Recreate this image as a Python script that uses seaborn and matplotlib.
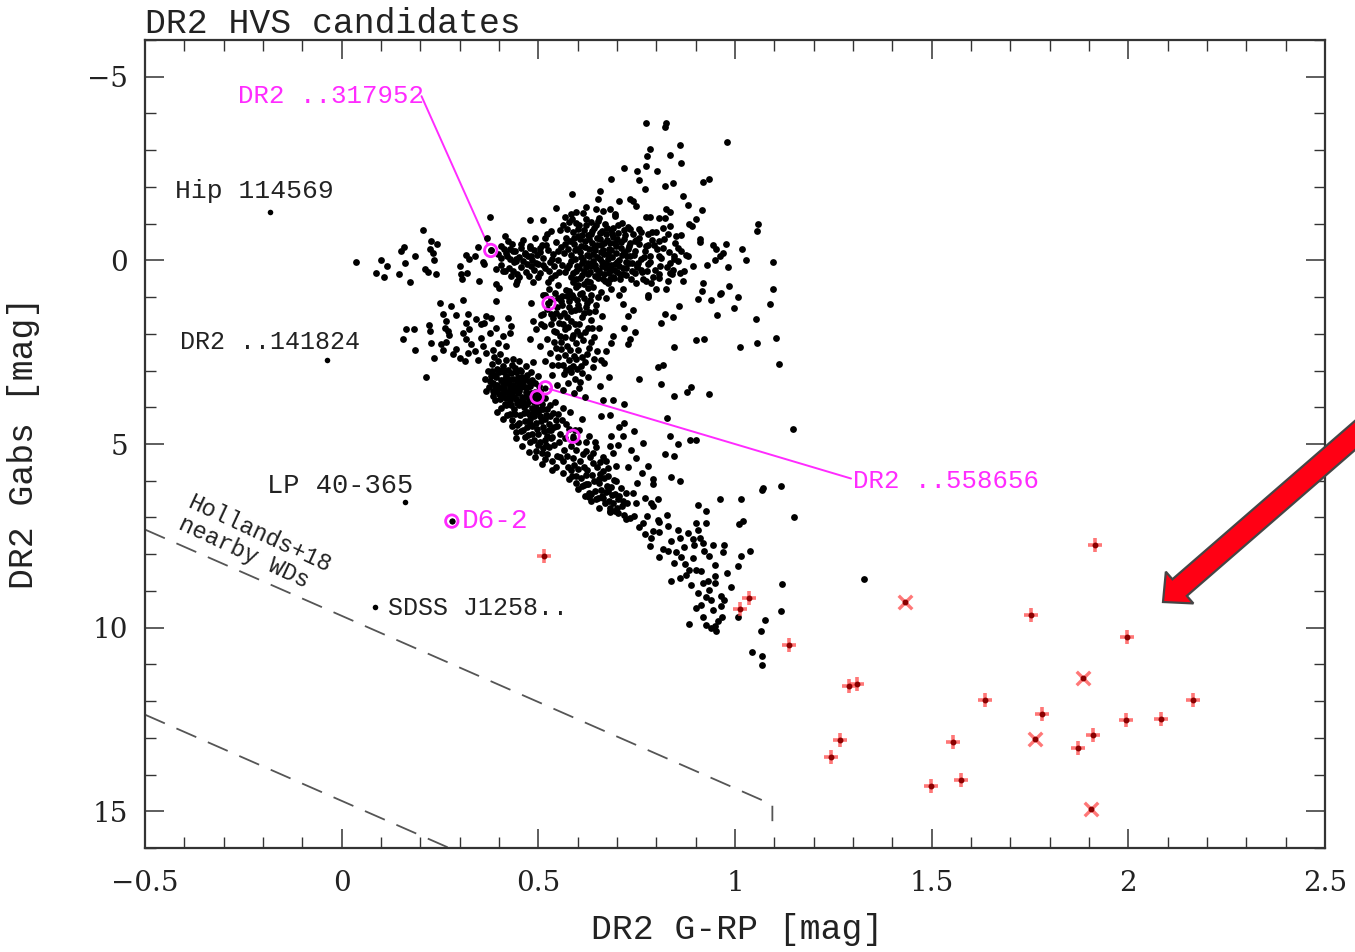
import numpy as np
import pandas as pd
import matplotlib
matplotlib.use("Agg")
import matplotlib.pyplot as plt
import seaborn as sns
from matplotlib.ticker import MultipleLocator, FuncFormatter
from matplotlib.patches import FancyArrow

# ---------------- data ----------------
# sparse stars, upper-left horizontal band
stars_upper_left = [(0.037,0.04),(0.10,0.0),(0.114,0.15),(0.088,0.35),(0.108,0.44),(0.147,0.38),(0.175,0.59),(0.16,0.06),(0.152,-0.25),(0.158,-0.37),(0.186,-0.12),(0.207,-0.82),(0.228,-0.53),(0.242,-0.44),(0.224,-0.32),(0.232,-0.21),(0.236,0.0),(0.213,0.23),(0.219,0.32),(0.241,0.38),(0.302,0.14),(0.317,-0.14),(0.325,-0.05),(0.34,-0.12),(0.346,-0.37),(0.359,0.05),(0.363,0.11),(0.304,0.38),(0.318,0.35),(0.307,0.52),(0.349,0.56),(0.376,-1.18),(0.370,-0.62),(0.379,-0.27),(0.393,0.23),(0.41,0.29),(0.393,0.65),(0.40,0.74),(0.431,0.43),(0.442,0.65),(0.414,-0.66),(0.423,-0.53),(0.406,-0.39),(0.419,-0.21),(0.435,-0.25),(0.406,-0.07),(0.427,-0.03),(0.444,0.02),(0.457,-0.44),(0.478,-0.39),(0.465,-0.16),(0.482,-0.12),(0.495,0.06),(0.48,-1.09),(0.512,-1.09),(0.546,-1.42),(0.567,-1.18),(0.584,-1.25),(0.586,-1.82),(0.533,-0.80),(0.554,-0.84),(0.516,-0.62),(0.503,-0.35),(0.516,0.93)]

# upper giant branch and right part of band
stars_upper_right = [(0.774,-3.75),(0.825,-3.75),(0.823,-3.64),(0.979,-3.23),(0.859,-3.13),(0.784,-3.02),(0.777,-2.83),(0.836,-2.87),(0.863,-2.66),(0.773,-2.57),(0.719,-2.51),(0.751,-2.43),(0.801,-2.43),(0.684,-2.21),(0.755,-2.19),(0.823,-2.03),(0.842,-2.10),(0.918,-2.14),(0.935,-2.21),(0.770,-1.95),(0.657,-1.89),(0.867,-1.74),(0.652,-1.66),(0.706,-1.62),(0.732,-1.68),(0.740,-1.62),(0.749,-1.48),(0.620,-1.44),(0.596,-1.32),(0.880,-1.50),(0.917,-1.36),(0.825,-1.41),(0.836,-1.32),(0.647,-1.41),(0.664,-1.34),(0.681,-1.39),(0.694,-1.25),(0.774,-1.18),(0.783,-1.18),(0.808,-1.16),(0.821,-1.14),(0.901,-1.12),(0.884,-0.98),(0.891,-0.94),(1.058,-0.98),(1.056,-0.80),(0.762,-0.77),(0.779,-0.71),(0.80,-0.76),(0.817,-0.89),(0.834,-0.94),(0.829,-0.71),(0.851,-0.66),(0.863,-0.68),(0.910,-0.57),(0.912,-0.50),(0.944,-0.41),(0.952,-0.30),(0.976,-0.44),(0.969,-0.19),(0.961,-0.12),(0.950,0.0),(1.018,-0.30),(1.028,0.0),(1.096,0.04),(0.982,0.18),(0.928,0.13),(0.876,-0.14),(0.918,0.61),(0.917,0.84),(0.986,0.70),(0.962,0.91),(1.007,0.99),(1.096,0.77),(0.745,-0.53),(0.757,-0.44),(0.774,-0.39),(0.795,-0.41),(0.808,-0.53),(0.783,-0.12),(0.808,-0.12),(0.834,0.06),(0.846,-0.12),(0.842,0.25),(0.859,0.34),(0.867,0.56),(0.808,0.38),(0.834,0.34),(0.779,0.11),(0.762,0.25),(0.753,0.06),(0.732,-0.12),(0.719,-0.21),(0.766,0.52),(0.787,0.61),(0.80,0.79),(0.825,0.79),(0.779,0.93),(0.749,0.61),(0.715,0.79),(0.706,0.93),
 (0.746,0.35),(0.755,-0.85),(0.76,-0.05),(0.771,-0.25),(0.776,0.3),(0.788,-0.55),(0.792,0.45),(0.81,0.15),(0.818,-0.35),(0.83,0.55),(0.845,-0.05),(0.855,-0.35)]

# blue stragglers / horizontal-branch region at left
stars_lower_left = [(0.156,2.13),(0.164,1.86),(0.183,1.88),(0.187,2.43),(0.215,3.17),(0.222,1.77),(0.224,1.93),(0.228,2.24),(0.236,2.65),(0.249,1.15),(0.257,1.47),(0.266,1.65),(0.262,1.83),(0.270,1.93),(0.274,2.04),(0.253,2.29),(0.266,2.23),(0.257,2.43),(0.283,2.56),(0.291,2.41),(0.300,2.65),(0.313,2.74),(0.279,1.25),(0.291,1.50),(0.308,1.08),(0.321,1.47),(0.315,1.70),(0.325,1.88),(0.308,1.97),(0.317,2.15),(0.330,2.29),(0.338,2.47),(0.321,2.52),(0.346,2.70),(0.342,1.61),(0.355,1.74),(0.368,1.52),(0.380,1.56),(0.363,1.70),(0.376,1.97),(0.393,1.11),(0.393,1.83),(0.410,2.06),(0.397,2.24),(0.385,2.43),(0.368,2.52),(0.359,2.34),(0.355,2.11),(0.419,2.34),(0.427,1.97),(0.431,1.79),(0.423,1.56),(0.482,1.15),(0.486,1.65),(0.495,1.88),(0.478,2.15),(0.512,1.47),(0.508,1.74)]

# sparse stars right of the cloud
stars_right = [(0.778,0.99),(0.857,1.23),(0.821,1.47),(0.842,1.53),(0.812,1.70),(0.905,1.06),(0.939,1.08),(0.965,0.90),(0.997,1.29),(0.955,1.50),(1.054,1.61),(1.088,1.19),(0.901,2.18),(0.922,2.13),(1.013,2.35),(1.056,2.24),(1.105,2.11),(1.111,2.81),(0.844,2.35),(0.804,2.91),(0.817,2.84),(0.757,3.22),(0.812,3.36),(0.846,3.70),(0.877,3.58),(0.889,3.45),(0.933,3.65),(0.827,4.29),(0.834,4.79),(0.855,5.01),(0.886,4.88),(0.900,4.90),(0.823,5.27),(0.845,5.33),(0.780,5.59),(0.764,5.80),(0.791,5.95),(0.838,5.89),(0.859,6.01),(0.749,5.38),(0.766,4.97),(1.147,4.60),(1.071,6.19),(1.117,6.13),(0.715,1.20),(0.728,1.52),(0.740,1.34),(0.719,1.83),(0.745,1.95),(0.732,2.15),(0.728,2.29),(0.690,2.06),(0.685,2.24),(0.673,2.47),(0.668,2.79),(0.679,3.17),(0.656,3.42),(0.664,3.79),(0.690,3.79),(0.719,3.92),(0.681,4.20),(0.660,4.24),(0.719,4.42),(0.715,4.77),(0.685,4.79),(0.681,5.06),(0.690,5.24),(0.664,5.74),(0.698,5.59),(0.705,4.55),(0.735,5.15),(0.742,4.65),(0.728,5.62),(0.752,6.05),(0.71,6.2),(0.655,5.95),(0.672,5.45),(0.645,4.95),(0.703,5.02)]

# lower main sequence
stars_main_seq = [(0.596,6.06),(0.622,6.10),(0.630,6.33),(0.647,6.51),(0.635,6.56),(0.664,6.47),(0.677,6.29),(0.681,6.74),(0.694,6.83),(0.702,6.51),(0.622,5.84),(0.698,6.01),(0.791,6.10),(1.069,6.25),(1.150,6.99),(0.723,6.33),(0.740,6.33),(0.715,6.56),(0.749,6.60),(0.770,6.47),(0.787,6.60),(0.804,6.49),(0.791,6.68),(0.681,6.83),(0.702,6.87),(0.723,7.04),(0.766,7.15),(0.804,7.06),(0.827,6.92),(0.808,7.13),(0.791,7.38),(0.808,7.40),(0.829,7.24),(0.787,7.56),(0.783,7.78),(0.838,7.65),(0.829,7.92),(0.859,7.56),(0.855,7.33),(0.880,7.42),(0.893,7.60),(0.905,7.35),(0.900,7.15),(0.927,7.15),(0.905,6.65),(0.927,6.83),(0.961,6.51),(1.016,6.51),(1.020,7.10),(1.011,7.19),(1.037,7.92),(1.016,8.06),(1.007,8.33),(0.973,7.74),(0.944,7.74),(0.969,7.95),(0.918,7.69),(0.910,7.56),(0.897,7.74),(0.922,7.92),(0.935,8.06),(0.893,8.10),(0.863,8.07),(0.806,8.07),(0.884,8.42),(0.901,8.42),(0.914,8.47),(0.876,8.56),(0.859,8.65),(0.838,8.74),(0.918,8.78),(0.931,8.74),(0.948,8.60),(0.950,8.78),(0.935,8.98),(0.927,9.16),(0.939,9.24),(0.965,9.15),(0.973,9.26),(0.965,9.40),(0.900,9.47),(0.918,9.70),(0.967,9.71),(0.882,9.90),(0.927,9.92),(0.948,9.96),(0.952,10.10),(1.007,9.70),(1.075,9.78),(1.067,10.10),(1.120,8.80),(1.117,9.54),(1.044,10.65),(1.068,10.78),(1.069,11.01),(1.328,8.67),
 (0.818,7.85),(0.846,8.25),(0.872,8.28),(0.889,8.85),(0.905,9.05),(0.913,9.38),(0.944,9.52),(0.958,9.82),(0.938,10.02),(0.85,7.95),(0.87,7.8),(0.95,8.3),(0.98,8.5),(0.99,8.9)]

# dense red-clump / giant region
stars_clump = [(0.562,-0.95),(0.571,-0.62),(0.575,-0.31),(0.578,0.12),(0.583,0.45),(0.586,-1.12),(0.589,-0.78),(0.591,-0.44),(0.594,-0.05),(0.597,0.28),(0.6,0.66),(0.603,-0.97),(0.605,-0.58),(0.607,-0.22),(0.61,0.08),(0.612,0.41),(0.614,-1.28),(0.617,-0.83),(0.619,-0.36),(0.621,0.19),(0.624,0.55),(0.626,-0.69),(0.628,-0.11),(0.631,0.33),(0.633,-1.05),(0.636,-0.48),(0.638,0.02),(0.64,0.72),(0.642,-0.88),(0.645,-0.27),(0.647,0.24),(0.649,-0.62),(0.652,0.49),(0.654,-1.15),(0.656,-0.05),(0.659,-0.41),(0.661,0.15),(0.663,-0.79),(0.666,0.38),(0.668,-0.18),(0.67,-0.99),(0.673,0.06),(0.675,-0.55),(0.677,0.61),(0.68,-0.32),(0.682,0.27),(0.684,-0.83),(0.687,-0.09),(0.689,0.44),(0.691,-0.63),(0.694,-1.21),(0.696,0.11),(0.698,-0.38),(0.701,0.33),(0.703,-0.74),(0.706,-0.02),(0.708,0.52),(0.711,-0.51),(0.713,-1.02),(0.716,0.21),(0.718,-0.24),(0.721,-0.69),(0.723,0.4),(0.726,-0.13),(0.729,-0.91),(0.731,0.07),(0.734,-0.46),(0.737,0.29),(0.74,-0.71),
 (0.565,-0.2),(0.569,0.31),(0.573,-0.85),(0.58,-0.53),(0.584,0.02),(0.588,0.58),(0.592,-0.27),(0.596,-1.02),(0.599,0.15),(0.602,-0.66),(0.606,0.47),(0.609,-0.39),(0.613,-0.02),(0.616,0.63),(0.62,-0.96),(0.623,-0.14),(0.627,0.36),(0.63,-0.57),(0.634,0.16),(0.637,-0.81),(0.641,-0.33),(0.644,0.42),(0.648,-0.08),(0.651,-1.06),(0.655,0.28),(0.658,-0.59),(0.662,0.04),(0.665,-0.29),(0.669,0.56),(0.672,-0.72),(0.676,-0.16),(0.679,0.34),(0.683,-0.47),(0.686,0.13),(0.69,-0.88),(0.693,0.47),(0.697,-0.2),(0.7,-0.58),(0.704,0.14),(0.709,-0.33),(0.714,0.36),(0.719,-0.84),(0.724,0.05),(0.73,-0.38),(0.735,0.51),(0.742,-0.15),(0.748,-0.55),(0.752,0.18),
 (0.571,0.82),(0.586,0.95),(0.598,1.08),(0.611,0.88),(0.623,1.15),(0.634,0.93),(0.647,1.21),(0.659,0.86),(0.672,1.02),(0.684,0.79),(0.558,1.12),(0.579,1.27),(0.604,1.33),(0.627,0.76),(0.652,0.99),
 (0.568,-0.45),(0.574,0.22),(0.579,-1.05),(0.582,-0.15),(0.587,0.35),(0.59,-0.62),(0.595,0.51),(0.598,-0.32),(0.601,-0.85),(0.604,0.22),(0.608,-0.08),(0.611,-0.68),(0.615,0.3),(0.618,-0.52),(0.622,-1.12),(0.625,0.06),(0.629,-0.3),(0.632,0.58),(0.635,-0.72),(0.639,-0.18),(0.643,0.12),(0.646,-0.95),(0.65,-0.42),(0.653,0.35),(0.657,-0.74),(0.66,-0.22),(0.664,0.52),(0.667,-0.48),(0.671,0.2),(0.674,-0.88),(0.678,-0.03),(0.681,0.52),(0.685,-0.28),(0.688,-0.72),(0.692,0.25),(0.695,-0.48),(0.699,0.05),(0.702,-0.95),(0.707,0.38),(0.712,-0.15),(0.717,-0.58),(0.722,0.2),(0.727,-0.32),(0.733,-0.85),(0.738,0.08)]

# horizontal band between the branches
stars_band = [(0.421,-0.12),(0.426,0.21),(0.432,-0.45),(0.437,0.05),(0.441,-0.26),(0.446,0.36),(0.452,-0.08),(0.457,0.18),(0.461,-0.55),(0.466,-0.21),(0.47,0.11),(0.475,0.42),(0.479,-0.35),(0.483,-0.02),(0.488,0.27),(0.492,-0.62),(0.496,-0.15),(0.5,0.09),(0.505,0.35),(0.509,-0.41),(0.513,-0.06),(0.517,0.22),(0.521,-0.72),(0.525,-0.29),(0.529,0.04),(0.533,0.47),(0.537,-0.18),(0.541,0.15),(0.545,-0.49),(0.549,-0.01),(0.553,0.31),(0.557,-0.37),(0.404,0.12),(0.412,-0.31),(0.398,-0.18),(0.415,0.3),(0.447,0.55),(0.486,0.6),(0.524,0.58),(0.549,0.66),
 (0.745,-0.25),(0.751,0.12),(0.757,-0.62),(0.763,0.33),(0.768,-0.09),(0.774,0.55),(0.779,-0.42),(0.785,0.05),(0.79,-0.78),(0.796,0.26),(0.802,-0.3),(0.807,0.47),(0.813,-0.06),(0.819,-0.57),(0.826,0.19),(0.833,-0.22),(0.84,0.38),(0.848,-0.48),(0.855,0.02),(0.862,-0.25),(0.87,0.29),(0.88,-0.12),(0.893,0.16),
 (0.428,-0.32),(0.435,0.28),(0.443,-0.05),(0.45,0.45),(0.455,-0.35),(0.462,0.02),(0.468,0.32),(0.473,-0.12),(0.481,0.15),(0.49,-0.28),(0.498,0.45),(0.503,-0.22),(0.511,0.12),(0.519,-0.42),(0.527,0.28),(0.535,-0.05),(0.543,0.4),(0.551,-0.25),(0.559,0.12)]

# subgiant stream
stars_stream = [(0.512,0.95),(0.521,1.32),(0.527,0.78),(0.533,1.05),(0.538,1.58),(0.543,0.88),(0.548,1.26),(0.552,1.71),(0.556,2.05),(0.561,0.97),(0.565,1.43),(0.569,1.88),(0.574,2.32),(0.578,1.12),(0.582,1.65),(0.586,2.12),(0.59,2.61),(0.594,1.36),(0.598,1.92),(0.602,2.45),(0.606,0.91),(0.61,1.55),(0.614,2.18),(0.618,2.77),(0.622,1.28),(0.626,1.83),(0.63,2.38),(0.634,1.62),(0.638,2.91),(0.642,2.08),(0.515,1.78),(0.522,2.15),(0.529,2.52),(0.536,2.86),(0.541,2.21),(0.546,1.95),(0.551,2.63),(0.557,2.42),(0.562,2.85),(0.567,2.58),(0.571,2.98),(0.577,2.71),(0.583,3.05),(0.588,2.88),(0.593,3.22),(0.599,2.95),(0.605,3.31),(0.611,3.08),(0.616,1.02),(0.625,3.18),(0.503,2.32),(0.508,1.48),(0.518,2.73),(0.531,1.73),(0.544,1.42),(0.559,1.21),(0.572,1.54),(0.587,1.01),(0.603,1.74),(0.617,1.42),(0.631,1.09),(0.645,1.38),(0.649,2.48),(0.655,1.85),(0.66,2.71),(0.663,1.52),(0.535,3.12),(0.548,3.38),(0.562,3.52),(0.576,3.33),(0.59,3.61),(0.604,3.48),(0.618,3.72),(0.579,0.84),(0.595,0.73),
 (0.525,1.15),(0.532,1.45),(0.539,1.92),(0.545,2.38),(0.55,1.02),(0.554,1.52),(0.558,2.22),(0.563,1.72),(0.568,2.1),(0.573,0.98),(0.575,1.82),(0.58,2.45),(0.584,1.38),(0.589,2.02),(0.592,1.72),(0.597,2.25),(0.6,1.22),(0.607,2.02),(0.612,2.62),(0.619,1.95),(0.624,2.55),(0.628,1.4),(0.633,2.22),(0.637,1.85),(0.641,2.68),(0.55,2.85),(0.565,3.1),(0.58,2.92),(0.596,2.68),(0.609,2.88)]

# turn-off clump
stars_turnoff = [(0.372,3.02),(0.378,3.28),(0.381,2.81),(0.385,3.55),(0.388,3.12),(0.391,3.81),(0.394,2.95),(0.396,3.38),(0.399,3.64),(0.401,3.05),(0.404,4.02),(0.406,3.25),(0.408,3.72),(0.411,2.88),(0.413,3.48),(0.415,3.92),(0.417,3.15),(0.42,4.21),(0.422,3.58),(0.424,2.98),(0.426,3.35),(0.428,3.84),(0.43,3.08),(0.432,4.35),(0.434,3.62),(0.436,3.22),(0.438,4.05),(0.44,2.92),(0.442,3.45),(0.444,3.78),(0.446,4.48),(0.448,3.18),(0.45,3.95),(0.452,3.55),(0.454,4.22),(0.456,3.02),(0.458,3.71),(0.46,4.61),(0.462,3.32),(0.464,3.98),(0.466,4.38),(0.468,3.58),(0.47,3.12),(0.472,4.12),(0.474,4.75),(0.476,3.82),(0.478,3.42),(0.48,4.45),(0.482,3.05),(0.484,4.02),(0.486,3.65),(0.488,4.88),(0.49,4.25),(0.492,3.35),(0.494,3.88),(0.496,4.58),(0.498,3.15),(0.5,4.12),(0.503,4.95),(0.505,3.55),(0.507,4.38),(0.51,3.92),(0.512,5.12),(0.515,4.65),(0.518,3.75),(0.52,4.22),(0.523,5.28),(0.526,4.45),(0.529,3.95),(0.532,4.85),(0.535,5.45),(0.538,4.15),
 (0.375,3.45),(0.383,3.02),(0.389,3.42),(0.393,3.18),(0.397,2.75),(0.402,3.48),(0.407,2.98),(0.41,3.62),(0.414,3.22),(0.418,3.75),(0.421,3.35),(0.425,3.68),(0.429,3.45),(0.433,2.85),(0.437,3.52),(0.441,4.18),(0.445,3.28),(0.449,3.62),(0.453,2.98),(0.457,3.45),(0.461,3.85),(0.465,3.22),(0.469,3.72),(0.473,3.45),(0.477,4.18),(0.481,3.62),(0.485,3.25),(0.489,3.85),(0.493,4.42),(0.497,3.78),(0.501,3.42),(0.506,4.05),(0.511,4.55),(0.516,4.32),(0.521,4.78),(0.527,5.08),(0.533,4.62),(0.539,5.02),(0.544,4.35),(0.548,5.32),(0.409,4.32),(0.432,4.52),(0.427,4.18),(0.442,4.68),(0.443,4.85),(0.451,4.42),(0.459,5.05),(0.467,4.82),(0.475,5.22),(0.483,4.72),(0.491,5.35),(0.499,5.02),(0.509,5.55),(0.517,5.42),(0.535,5.7),(0.387,2.62),(0.403,2.55),(0.418,2.72),(0.436,2.68),(0.452,2.75),(0.468,2.88),(0.486,2.78),(0.364,3.22),(0.368,3.55),(0.386,3.7),(0.395,4.12),
 (0.38,3.15),(0.386,3.35),(0.392,3.55),(0.398,3.02),(0.403,3.78),(0.409,3.35),(0.412,3.05),(0.416,3.58),(0.419,3.95),(0.423,3.22),(0.427,3.52),(0.431,3.95),(0.435,3.38),(0.439,3.72),(0.443,3.05),(0.447,3.88),(0.451,3.32),(0.455,3.82),(0.459,3.18),(0.463,4.15),(0.467,3.45),(0.471,3.92),(0.475,3.28),(0.479,4.32),(0.483,3.78),(0.487,4.15),(0.491,3.58),(0.495,4.02),(0.5,3.72),(0.504,4.25),(0.508,3.68),(0.513,4.05),(0.517,4.88),(0.522,4.05),(0.526,4.62),(0.53,4.25),(0.536,4.82),(0.541,4.55),(0.455,4.65),(0.47,4.55),(0.485,4.52),(0.5,4.72),(0.48,4.95),(0.495,5.18),(0.51,5.25),(0.52,5.02)]

# upper main sequence
stars_upper_ms = [(0.542,3.85),(0.551,4.18),(0.556,4.72),(0.562,4.02),(0.566,5.15),(0.571,4.45),(0.575,5.62),(0.58,4.12),(0.584,5.05),(0.589,5.38),(0.593,4.62),(0.597,5.88),(0.602,4.95),(0.606,5.45),(0.611,4.32),(0.615,6.12),(0.62,5.18),(0.624,5.72),(0.629,4.78),(0.633,6.35),(0.638,5.52),(0.642,6.02),(0.647,5.08),(0.651,6.48),(0.656,5.82),(0.66,6.25),(0.665,5.35),(0.669,6.62),(0.674,6.15),(0.678,5.65),(0.683,6.85),(0.688,6.38),(0.692,5.98),(0.555,5.35),(0.562,5.78),(0.578,5.95),(0.585,5.88),(0.612,6.15),(0.601,6.22),(0.628,6.45),(0.546,5.62),(0.619,6.42),(0.655,6.75),
 (0.548,4.52),(0.553,4.95),(0.559,4.35),(0.563,5.45),(0.568,4.85),(0.573,5.32),(0.577,4.58),(0.582,5.72),(0.587,4.85),(0.591,5.58),(0.595,5.15),(0.6,5.68),(0.604,4.62),(0.609,5.92),(0.613,5.28),(0.617,5.62),(0.622,4.95),(0.626,6.08),(0.631,5.35),(0.636,5.85),(0.64,5.25),(0.645,6.28),(0.649,5.62),(0.654,6.05),(0.658,5.48),(0.663,6.42),(0.667,5.92),(0.672,6.32),(0.676,5.88),(0.68,6.55),(0.685,6.18),(0.69,6.62),(0.695,6.35),(0.7,6.75),(0.706,6.42),(0.712,6.68),(0.718,6.92),(0.726,6.62),(0.733,7.02),(0.742,6.95),(0.755,7.25),(0.77,7.45),(0.775,6.95)]

# named individual objects
named_x = [-0.182, -0.038, 0.162, 0.086, 0.280]
named_y = [-1.32, 2.70, 6.57, 9.45, 7.10]
named_labels = ["Hip 114569", "DR2 ..141824", "LP 40-365", "SDSS J1258.."]

# circled HVS candidates (magenta)
hvs_x = [0.379, 0.527, 0.518, 0.497, 0.588, 0.280]
hvs_y = [-0.27, 1.17, 3.47, 3.72, 4.79, 7.10]

# red candidates, '+' and 'x' symbols
red_plus_x = [0.514, 1.035, 1.013, 1.138, 1.915, 1.752, 1.996, 1.289, 1.311, 1.635, 1.780, 2.164, 1.994, 2.083, 1.911, 1.872, 1.266, 1.245, 1.553, 1.574, 1.498]
red_plus_y = [8.06, 9.19, 9.48, 10.46, 7.74, 9.65, 10.25, 11.60, 11.53, 11.96, 12.34, 11.98, 12.51, 12.48, 12.92, 13.28, 13.07, 13.51, 13.12, 14.14, 14.31]
red_cross_x = [1.431, 1.886, 1.762, 1.906]
red_cross_y = [9.31, 11.38, 13.03, 14.94]

# Hollands+18 nearby white dwarf boundaries (dashed)
wd_upper_x = [-0.5, 1.095, 1.095]
wd_upper_y = [7.33, 14.82, 15.27]
wd_lower_x = [-0.5, 0.28]
wd_lower_y = [12.37, 16.03]

# ---------------- figure ----------------
sns.set_theme(style="ticks")
plt.rcParams['font.family'] = ['DejaVu Serif', 'DejaVu Sans']
plt.rcParams['axes.unicode_minus'] = True
MONO = ['Liberation Mono', 'DejaVu Sans Mono']
MAGENTA = '#ff2bff'
INK = '#222222'

fig = plt.figure(figsize=(13.55, 9.52), dpi=100)
ax = fig.add_axes([145/1355, 1-848/952, 1180/1355, 808/952])

all_stars = (stars_upper_left + stars_upper_right + stars_lower_left + stars_right +
             stars_main_seq + stars_clump + stars_band + stars_stream + stars_turnoff +
             stars_upper_ms)
df_stars = pd.DataFrame(all_stars, columns=['grp', 'gabs'])
df_named = pd.DataFrame({'grp': named_x, 'gabs': named_y})
df_hvs = pd.DataFrame({'grp': hvs_x, 'gabs': hvs_y})
df_plus = pd.DataFrame({'grp': red_plus_x, 'gabs': red_plus_y})
df_cross = pd.DataFrame({'grp': red_cross_x, 'gabs': red_cross_y})

# dashed WD lines
ax.plot(wd_upper_x, wd_upper_y, color='#555555', lw=1.3, ls=(0, (12, 7)), zorder=1)
ax.plot(wd_lower_x, wd_lower_y, color='#555555', lw=1.3, ls=(0, (12, 7)), zorder=1)

sns.scatterplot(data=df_stars, x='grp', y='gabs', ax=ax, color='black', s=24,
                marker='o', linewidth=0, zorder=3)
sns.scatterplot(data=df_named, x='grp', y='gabs', ax=ax, color='black', s=16,
                marker='o', linewidth=0, zorder=3)
sns.scatterplot(data=df_hvs, x='grp', y='gabs', ax=ax, color='black', s=20,
                marker='o', linewidth=0, zorder=4)
ax.scatter(df_hvs['grp'], df_hvs['gabs'], s=80, facecolors='none',
           edgecolors=MAGENTA, linewidths=2.0, zorder=5)

# red symbols
sns.scatterplot(data=df_plus, x='grp', y='gabs', ax=ax, color='#ff4a4a', s=95,
                marker='+', linewidth=2.6, alpha=0.75, zorder=4)
sns.scatterplot(data=df_cross, x='grp', y='gabs', ax=ax, color='#ff4a4a', s=95,
                marker='x', linewidth=2.4, alpha=0.75, zorder=4)
df_red = pd.concat([df_plus, df_cross])
sns.scatterplot(data=df_red, x='grp', y='gabs', ax=ax, color='#8a0000', s=18,
                marker='o', linewidth=0, zorder=5)

# magenta annotation lines
ax.plot([0.203, 0.372], [-4.47, -0.42], color=MAGENTA, lw=1.4, zorder=2)
ax.plot([0.528, 1.295], [3.50, 5.94], color=MAGENTA, lw=1.4, zorder=2)

# labels
ax.text(-0.424, -1.88, named_labels[0], family=MONO, fontsize=19, color=INK, ha='left', va='center')
ax.text(-0.412, 2.23, named_labels[1], family=MONO, fontsize=18, color=INK, ha='left', va='center')
ax.text(-0.19, 6.13, named_labels[2], family=MONO, fontsize=19.5, color=INK, ha='left', va='center')
ax.text(0.117, 9.46, named_labels[3], family=MONO, fontsize=18, color=INK, ha='left', va='center')
ax.text(0.305, 7.11, "D6-2", family=MONO, fontsize=20, color=MAGENTA, ha='left', va='center')
ax.text(-0.264, -4.48, "DR2 ..317952", family=MONO, fontsize=18.5, color=MAGENTA, ha='left', va='center')
ax.text(1.299, 6.02, "DR2 ..558656", family=MONO, fontsize=18.5, color=MAGENTA, ha='left', va='center')
ax.text(-0.221, 7.74, "Hollands+18\nnearby WDs", family=MONO, fontsize=17, color=INK,
        rotation=-25, rotation_mode='anchor', ha='center', va='center',
        multialignment='left', linespacing=1.0)

# axes styling
ax.set_xlim(-0.5, 2.5)
ax.set_ylim(16, -6)
ax.xaxis.set_major_locator(MultipleLocator(0.5))
ax.xaxis.set_minor_locator(MultipleLocator(0.1))
ax.yaxis.set_major_locator(MultipleLocator(5))
ax.yaxis.set_minor_locator(MultipleLocator(1))
fmt = FuncFormatter(lambda v, p: ('%g' % v).replace('-', '\u2212'))
ax.xaxis.set_major_formatter(fmt)
ax.yaxis.set_major_formatter(fmt)
ax.tick_params(which='both', direction='in', top=True, right=True, color='#333333')
ax.tick_params(which='major', length=13.5, width=1.1, labelsize=20, labelcolor=INK)
ax.tick_params(which='minor', length=8, width=1.0)
ax.tick_params(axis='x', which='major', pad=16)
ax.tick_params(axis='y', which='major', pad=12)
for sp in ax.spines.values():
    sp.set_linewidth(1.6)
    sp.set_color('#333333')
ax.set_xlabel('')
ax.set_ylabel('')

ax.set_title("DR2 HVS candidates", loc='left', family=MONO, fontsize=25, color=INK, pad=4)
fig.text(737/1355, 1-930/952, "DR2 G-RP [mag]", family=MONO, fontsize=25, color=INK,
         ha='center', va='center')
fig.text(24/1355, 1-443/952, "DR2 Gabs [mag]", family=MONO, fontsize=25, color=INK,
         ha='center', va='center', rotation=90)

# big red arrow overlay
arrow = FancyArrow(14.5, 5.99, 11.63-14.5, 3.50-5.99, width=0.22, head_width=0.42,
                   head_length=0.22, length_includes_head=True,
                   transform=fig.dpi_scale_trans, facecolor='#ff0014',
                   edgecolor='#454545', linewidth=1.6, zorder=10)
fig.add_artist(arrow)

fig.savefig('out.png', dpi=100)
